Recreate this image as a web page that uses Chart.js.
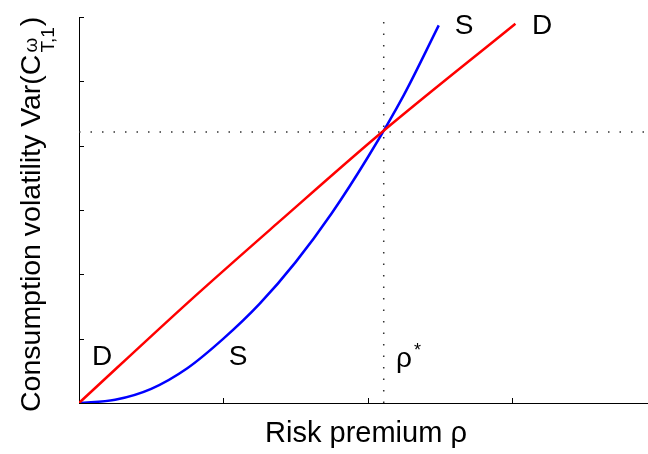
<!DOCTYPE html>
<html>
<head>
<meta charset="utf-8">
<script src="https://cdn.jsdelivr.net/npm/chart.js@4/dist/chart.umd.min.js"></script>
<style>
	html, body { margin: 0; padding: 0; background: #fff; }
	#chart { display: block; }
</style>
</head>
<body>
<canvas id="chart" width="648" height="454"></canvas>
<script>
// curve D (demand)
const demandX = [0, 0.773, 1.384, 2.099, 3.022];
const demandY = [0, 1.60, 2.815, 4.213, 5.896];

// curve S (supply)
const supplyX = [0, 0.25, 0.5, 0.75, 1.0, 1.25, 1.5, 1.75, 2.0, 2.25, 2.491];
const supplyY = [0, 0.05, 0.22, 0.54, 1.0, 1.54, 2.19, 2.95, 3.82, 4.79, 5.87];

// equilibrium guides
const rhoStar = 2.11;
const varStar = 4.213;
const vGuideTop = 5.95;

const xTicks = [1, 2, 3];
const yTicks = [1, 2, 3, 4, 5, 6];

const xMax = 3.94;
const yMax = 6;

const FONT = '"Liberation Sans", Arial, Helvetica, sans-serif';

function toPoints(xs, ys) {
	return xs.map((x, i) => ({ x, y: ys[i] }));
}

const decorPlugin = {
	id: 'decor',
	afterDraw(chart) {
		const ctx = chart.ctx;
		const xs = chart.scales.x;
		const ys = chart.scales.y;
		const area = chart.chartArea;

		// inward tick marks
		ctx.save();
		ctx.strokeStyle = '#000';
		ctx.lineWidth = 1;
		ctx.beginPath();
		xTicks.forEach((t) => {
			const px = Math.round(xs.getPixelForValue(t)) + 0.5;
			ctx.moveTo(px, area.bottom);
			ctx.lineTo(px, area.bottom - 5);
		});
		yTicks.forEach((t) => {
			const py = Math.round(ys.getPixelForValue(t)) + 0.5;
			ctx.moveTo(area.left, py);
			ctx.lineTo(area.left + 5, py);
		});
		ctx.stroke();

		// curve labels
		ctx.fillStyle = '#000';
		ctx.font = `28px ${FONT}`;
		ctx.textAlign = 'center';
		ctx.textBaseline = 'alphabetic';
		ctx.fillText('S', 464, 34);
		ctx.fillText('D', 542, 34);
		ctx.fillText('D', 102, 365);
		ctx.fillText('S', 238, 365);

		// rho star
		ctx.textAlign = 'left';
		ctx.fillText('ρ', 396, 367);
		ctx.font = `18px ${FONT}`;
		ctx.fillText('*', 414, 356);

		// x title
		ctx.font = `29px ${FONT}`;
		ctx.textAlign = 'center';
		ctx.fillText('Risk premium ρ', 366, 442);

		// y title, rotated
		ctx.translate(40, 412);
		ctx.rotate(-Math.PI / 2);
		ctx.textAlign = 'left';
		ctx.font = `28.5px ${FONT}`;
		const main = 'Consumption volatility Var(C';
		ctx.fillText(main, 0, 0);
		const w = ctx.measureText(main).width;
		ctx.font = `19px ${FONT}`;
		ctx.fillText('ω', w + 2, -3);
		ctx.fillText('T,1', w + 2, 14);
		const wSup = Math.max(ctx.measureText('ω').width, ctx.measureText('T,1').width);
		ctx.font = `28.5px ${FONT}`;
		ctx.fillText(')', w + 3 + wSup, 0);
		ctx.restore();
	}
};

new Chart(document.getElementById('chart'), {
	type: 'line',
	data: {
		datasets: [
			{
				label: 'D',
				data: toPoints(demandX, demandY),
				borderColor: '#ff0000',
				borderWidth: 2.5,
				pointRadius: 0,
				cubicInterpolationMode: 'monotone',
				order: 0
			},
			{
				label: 'S',
				data: toPoints(supplyX, supplyY),
				borderColor: '#0000ff',
				borderWidth: 2.5,
				pointRadius: 0,
				cubicInterpolationMode: 'monotone',
				order: 1
			},
			{
				label: 'rho*',
				data: [{ x: rhoStar, y: 0 }, { x: rhoStar, y: vGuideTop }],
				borderColor: '#333',
				borderWidth: 1.5,
				borderDash: [1.5, 10],
				pointRadius: 0,
				order: 2
			},
			{
				label: 'var*',
				data: [{ x: 0, y: varStar }, { x: xMax, y: varStar }],
				borderColor: '#333',
				borderWidth: 1.5,
				borderDash: [1.5, 10],
				pointRadius: 0,
				order: 3
			}
		]
	},
	options: {
		responsive: false,
		animation: false,
		devicePixelRatio: 1,
		layout: { padding: { top: 17, right: 0, left: 0, bottom: 0 } },
		plugins: {
			legend: { display: false },
			tooltip: { enabled: false }
		},
		scales: {
			x: {
				type: 'linear',
				min: 0,
				max: xMax,
				ticks: { display: false },
				grid: { display: false },
				border: { display: true, color: '#000', width: 1 },
				afterFit(scale) { scale.height = 51; }
			},
			y: {
				type: 'linear',
				min: 0,
				max: yMax,
				ticks: { display: false },
				grid: { display: false },
				border: { display: true, color: '#000', width: 1 },
				afterFit(scale) { scale.width = 79; }
			}
		}
	},
	plugins: [decorPlugin]
});
</script>
</body>
</html>
